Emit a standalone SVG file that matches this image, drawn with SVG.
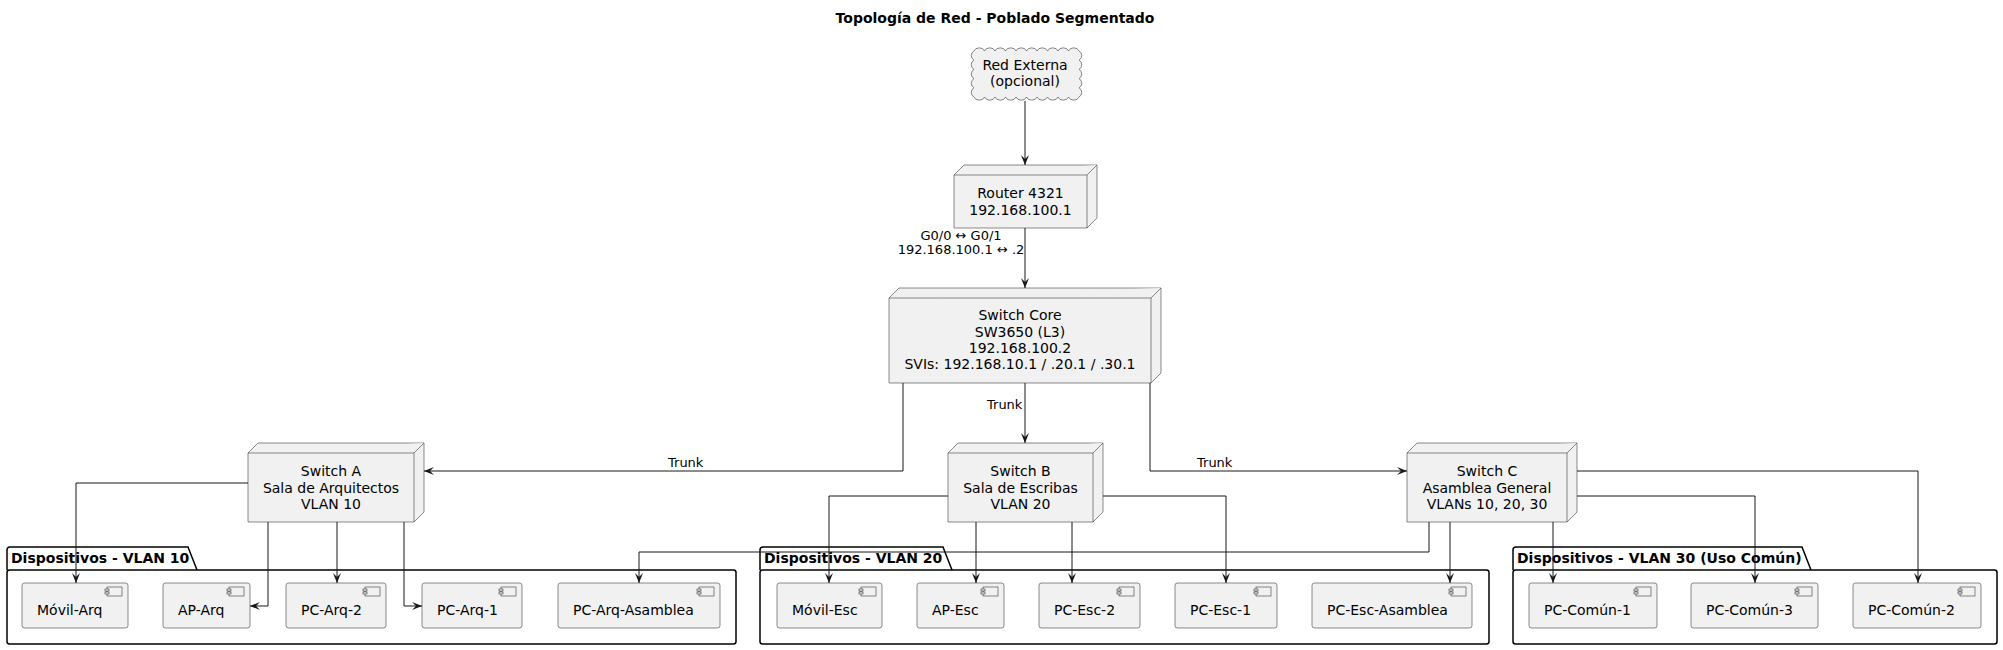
<svg xmlns="http://www.w3.org/2000/svg" width="2003" height="650" viewBox="0 0 2003 650">
<style>
text{font-family:"DejaVu Sans","Liberation Sans",sans-serif;fill:#000}
.t{font-size:14px;text-anchor:middle}
.c{font-size:14px}
.l{font-size:13px}
.pt{font-size:14px;font-weight:bold}
.node{fill:#F1F1F1;stroke:#181818;stroke-width:0.5}
.pkg{fill:none;stroke:#000;stroke-width:1.5}
.comp{fill:#F1F1F1;stroke:#181818;stroke-width:0.5}
.ic{fill:#F1F1F1;stroke:#181818;stroke-width:0.5}
.e{fill:none;stroke:#181818;stroke-width:1;marker-end:url(#ah)}
</style>
<defs>
<marker id="ah" viewBox="0 0 10 10" refX="10" refY="5" markerWidth="10" markerHeight="10" markerUnits="userSpaceOnUse" orient="auto">
<path d="M0,1 L10,5 L0,9 L4,5 Z" fill="#181818"/>
</marker>
<g id="icon">
<rect class="ic" x="0" y="0" width="15" height="9"/>
<rect class="ic" x="-2" y="2" width="4" height="2"/>
<rect class="ic" x="-2" y="5" width="4" height="2"/>
</g>
</defs>
<rect width="2003" height="650" fill="#fff"/>
<text x="995" y="23" class="pt" text-anchor="middle">Topología de Red - Poblado Segmentado</text>

<g id="packages">
<g id="pkg-vlan10">
<path class="pkg" d="M7,570 V550 Q7,547 10,547 H188 L197,570"/>
<rect class="pkg" x="7" y="570" width="729" height="74" rx="2.5"/>
<text x="11" y="563" class="pt">Dispositivos - VLAN 10</text>
</g>
<g id="pkg-vlan20">
<path class="pkg" d="M760,570 V550 Q760,547 763,547 H943 L952,570"/>
<rect class="pkg" x="760" y="570" width="729" height="74" rx="2.5"/>
<text x="764" y="563" class="pt">Dispositivos - VLAN 20</text>
</g>
<g id="pkg-vlan30">
<path class="pkg" d="M1513,570 V550 Q1513,547 1516,547 H1802 L1811,570"/>
<rect class="pkg" x="1513" y="570" width="484" height="74" rx="2.5"/>
<text x="1517" y="563" class="pt">Dispositivos - VLAN 30 (Uso Común)</text>
</g>
</g>

<g id="cloud">
<path class="node" d="M974,51 a5.5,4.5 0 0 1 10.5,0 a5.5,4.5 0 0 1 10.5,0 a5.5,4.5 0 0 1 10.5,0 a5.5,4.5 0 0 1 10.5,0 a5.5,4.5 0 0 1 10.5,0 a5.5,4.5 0 0 1 10.5,0 a5.5,4.5 0 0 1 10.5,0 a5.5,4.5 0 0 1 10.5,0 a5.5,4.5 0 0 1 10.5,0 a5.5,4.5 0 0 1 10.5,0 a4.5,5 0 0 1 0,9.2 a4.5,5 0 0 1 0,9.2 a4.5,5 0 0 1 0,9.2 a4.5,5 0 0 1 0,9.2 a4.5,5 0 0 1 0,9.2 a5.5,4.5 0 0 1 -10.5,0 a5.5,4.5 0 0 1 -10.5,0 a5.5,4.5 0 0 1 -10.5,0 a5.5,4.5 0 0 1 -10.5,0 a5.5,4.5 0 0 1 -10.5,0 a5.5,4.5 0 0 1 -10.5,0 a5.5,4.5 0 0 1 -10.5,0 a5.5,4.5 0 0 1 -10.5,0 a5.5,4.5 0 0 1 -10.5,0 a5.5,4.5 0 0 1 -10.5,0 a4.5,5 0 0 1 0,-9.2 a4.5,5 0 0 1 0,-9.2 a4.5,5 0 0 1 0,-9.2 a4.5,5 0 0 1 0,-9.2 a4.5,5 0 0 1 0,-9.2 Z"/>
<text x="1025" y="70" class="t">Red Externa</text>
<text x="1025" y="86" class="t">(opcional)</text>
</g>

<g id="router">
<path class="node" d="M954,175 L964,165 H1097 V218 L1087,228 H954 Z"/>
<path class="node" fill="none" d="M954,175 H1087 L1097,165 M1087,175 V228"/>
<text x="1020.5" y="198" class="t">Router 4321</text>
<text x="1020.5" y="215" class="t">192.168.100.1</text>
</g>

<g id="core">
<path class="node" d="M889,298 L899,288 H1161 V373 L1151,383 H889 Z"/>
<path class="node" fill="none" d="M889,298 H1151 L1161,288 M1151,298 V383"/>
<text x="1020" y="320" class="t">Switch Core</text>
<text x="1020" y="337" class="t">SW3650 (L3)</text>
<text x="1020" y="353" class="t">192.168.100.2</text>
<text x="1020" y="369" class="t">SVIs: 192.168.10.1 / .20.1 / .30.1</text>
</g>

<g id="switchA">
<path class="node" d="M248,453 L258,443 H424 V512 L414,522 H248 Z"/>
<path class="node" fill="none" d="M248,453 H414 L424,443 M414,453 V522"/>
<text x="331" y="476" class="t">Switch A</text>
<text x="331" y="493" class="t">Sala de Arquitectos</text>
<text x="331" y="509" class="t">VLAN 10</text>
</g>

<g id="switchB">
<path class="node" d="M948,453 L958,443 H1103 V512 L1093,522 H948 Z"/>
<path class="node" fill="none" d="M948,453 H1093 L1103,443 M1093,453 V522"/>
<text x="1020.5" y="476" class="t">Switch B</text>
<text x="1020.5" y="493" class="t">Sala de Escribas</text>
<text x="1020.5" y="509" class="t">VLAN 20</text>
</g>

<g id="switchC">
<path class="node" d="M1407,453 L1417,443 H1577 V512 L1567,522 H1407 Z"/>
<path class="node" fill="none" d="M1407,453 H1567 L1577,443 M1567,453 V522"/>
<text x="1487" y="476" class="t">Switch C</text>
<text x="1487" y="493" class="t">Asamblea General</text>
<text x="1487" y="509" class="t">VLANs 10, 20, 30</text>
</g>

<g id="movil-arq"><rect class="comp" x="22" y="583" width="106" height="45" rx="2.5"/><use href="#icon" x="107" y="587"/><text x="37" y="615" class="c">Móvil-Arq</text></g>
<g id="ap-arq"><rect class="comp" x="163" y="583" width="87" height="45" rx="2.5"/><use href="#icon" x="229" y="587"/><text x="178" y="615" class="c">AP-Arq</text></g>
<g id="pc-arq-2"><rect class="comp" x="286" y="583" width="100" height="45" rx="2.5"/><use href="#icon" x="365" y="587"/><text x="301" y="615" class="c">PC-Arq-2</text></g>
<g id="pc-arq-1"><rect class="comp" x="422" y="583" width="100" height="45" rx="2.5"/><use href="#icon" x="501" y="587"/><text x="437" y="615" class="c">PC-Arq-1</text></g>
<g id="pc-arq-asamblea"><rect class="comp" x="558" y="583" width="162" height="45" rx="2.5"/><use href="#icon" x="699" y="587"/><text x="573" y="615" class="c">PC-Arq-Asamblea</text></g>

<g id="movil-esc"><rect class="comp" x="777" y="583" width="105" height="45" rx="2.5"/><use href="#icon" x="861" y="587"/><text x="792" y="615" class="c">Móvil-Esc</text></g>
<g id="ap-esc"><rect class="comp" x="917" y="583" width="87" height="45" rx="2.5"/><use href="#icon" x="983" y="587"/><text x="932" y="615" class="c">AP-Esc</text></g>
<g id="pc-esc-2"><rect class="comp" x="1039" y="583" width="101" height="45" rx="2.5"/><use href="#icon" x="1119" y="587"/><text x="1054" y="615" class="c">PC-Esc-2</text></g>
<g id="pc-esc-1"><rect class="comp" x="1175" y="583" width="102" height="45" rx="2.5"/><use href="#icon" x="1256" y="587"/><text x="1190" y="615" class="c">PC-Esc-1</text></g>
<g id="pc-esc-asamblea"><rect class="comp" x="1312" y="583" width="160" height="45" rx="2.5"/><use href="#icon" x="1451" y="587"/><text x="1327" y="615" class="c">PC-Esc-Asamblea</text></g>

<g id="pc-comun-1"><rect class="comp" x="1529" y="583" width="128" height="45" rx="2.5"/><use href="#icon" x="1636" y="587"/><text x="1544" y="615" class="c">PC-Común-1</text></g>
<g id="pc-comun-3"><rect class="comp" x="1691" y="583" width="127" height="45" rx="2.5"/><use href="#icon" x="1797" y="587"/><text x="1706" y="615" class="c">PC-Común-3</text></g>
<g id="pc-comun-2"><rect class="comp" x="1853" y="583" width="128" height="45" rx="2.5"/><use href="#icon" x="1960" y="587"/><text x="1868" y="615" class="c">PC-Común-2</text></g>

<g id="connectors">
<path class="e" d="M1025,101 V165"/>
<path class="e" d="M1025,228 V288"/>
<text x="961" y="240" class="l" text-anchor="middle">G0/0 ↔ G0/1</text>
<text x="961" y="254" class="l" text-anchor="middle">192.168.100.1 ↔ .2</text>
<path class="e" d="M1025,383 V443"/>
<text x="987" y="409" class="l">Trunk</text>
<path class="e" d="M903,383 V471 H424"/>
<text x="668" y="467" class="l">Trunk</text>
<path class="e" d="M1150,383 V471 H1407"/>
<text x="1197" y="467" class="l">Trunk</text>
<path class="e" d="M248,483 H76 V583"/>
<path class="e" d="M268,522 V606 H250"/>
<path class="e" d="M337,522 V583"/>
<path class="e" d="M404,522 V606 H422"/>
<path class="e" d="M948,496 H829 V583"/>
<path class="e" d="M976,522 V583"/>
<path class="e" d="M1072,522 V583"/>
<path class="e" d="M1103,496 H1226 V583"/>
<path class="e" d="M1429,522 V552 H639 V583"/>
<path class="e" d="M1450,522 V583"/>
<path class="e" d="M1553,522 V583"/>
<path class="e" d="M1577,496 H1755 V583"/>
<path class="e" d="M1577,471 H1918 V583"/>
</g>
</svg>
